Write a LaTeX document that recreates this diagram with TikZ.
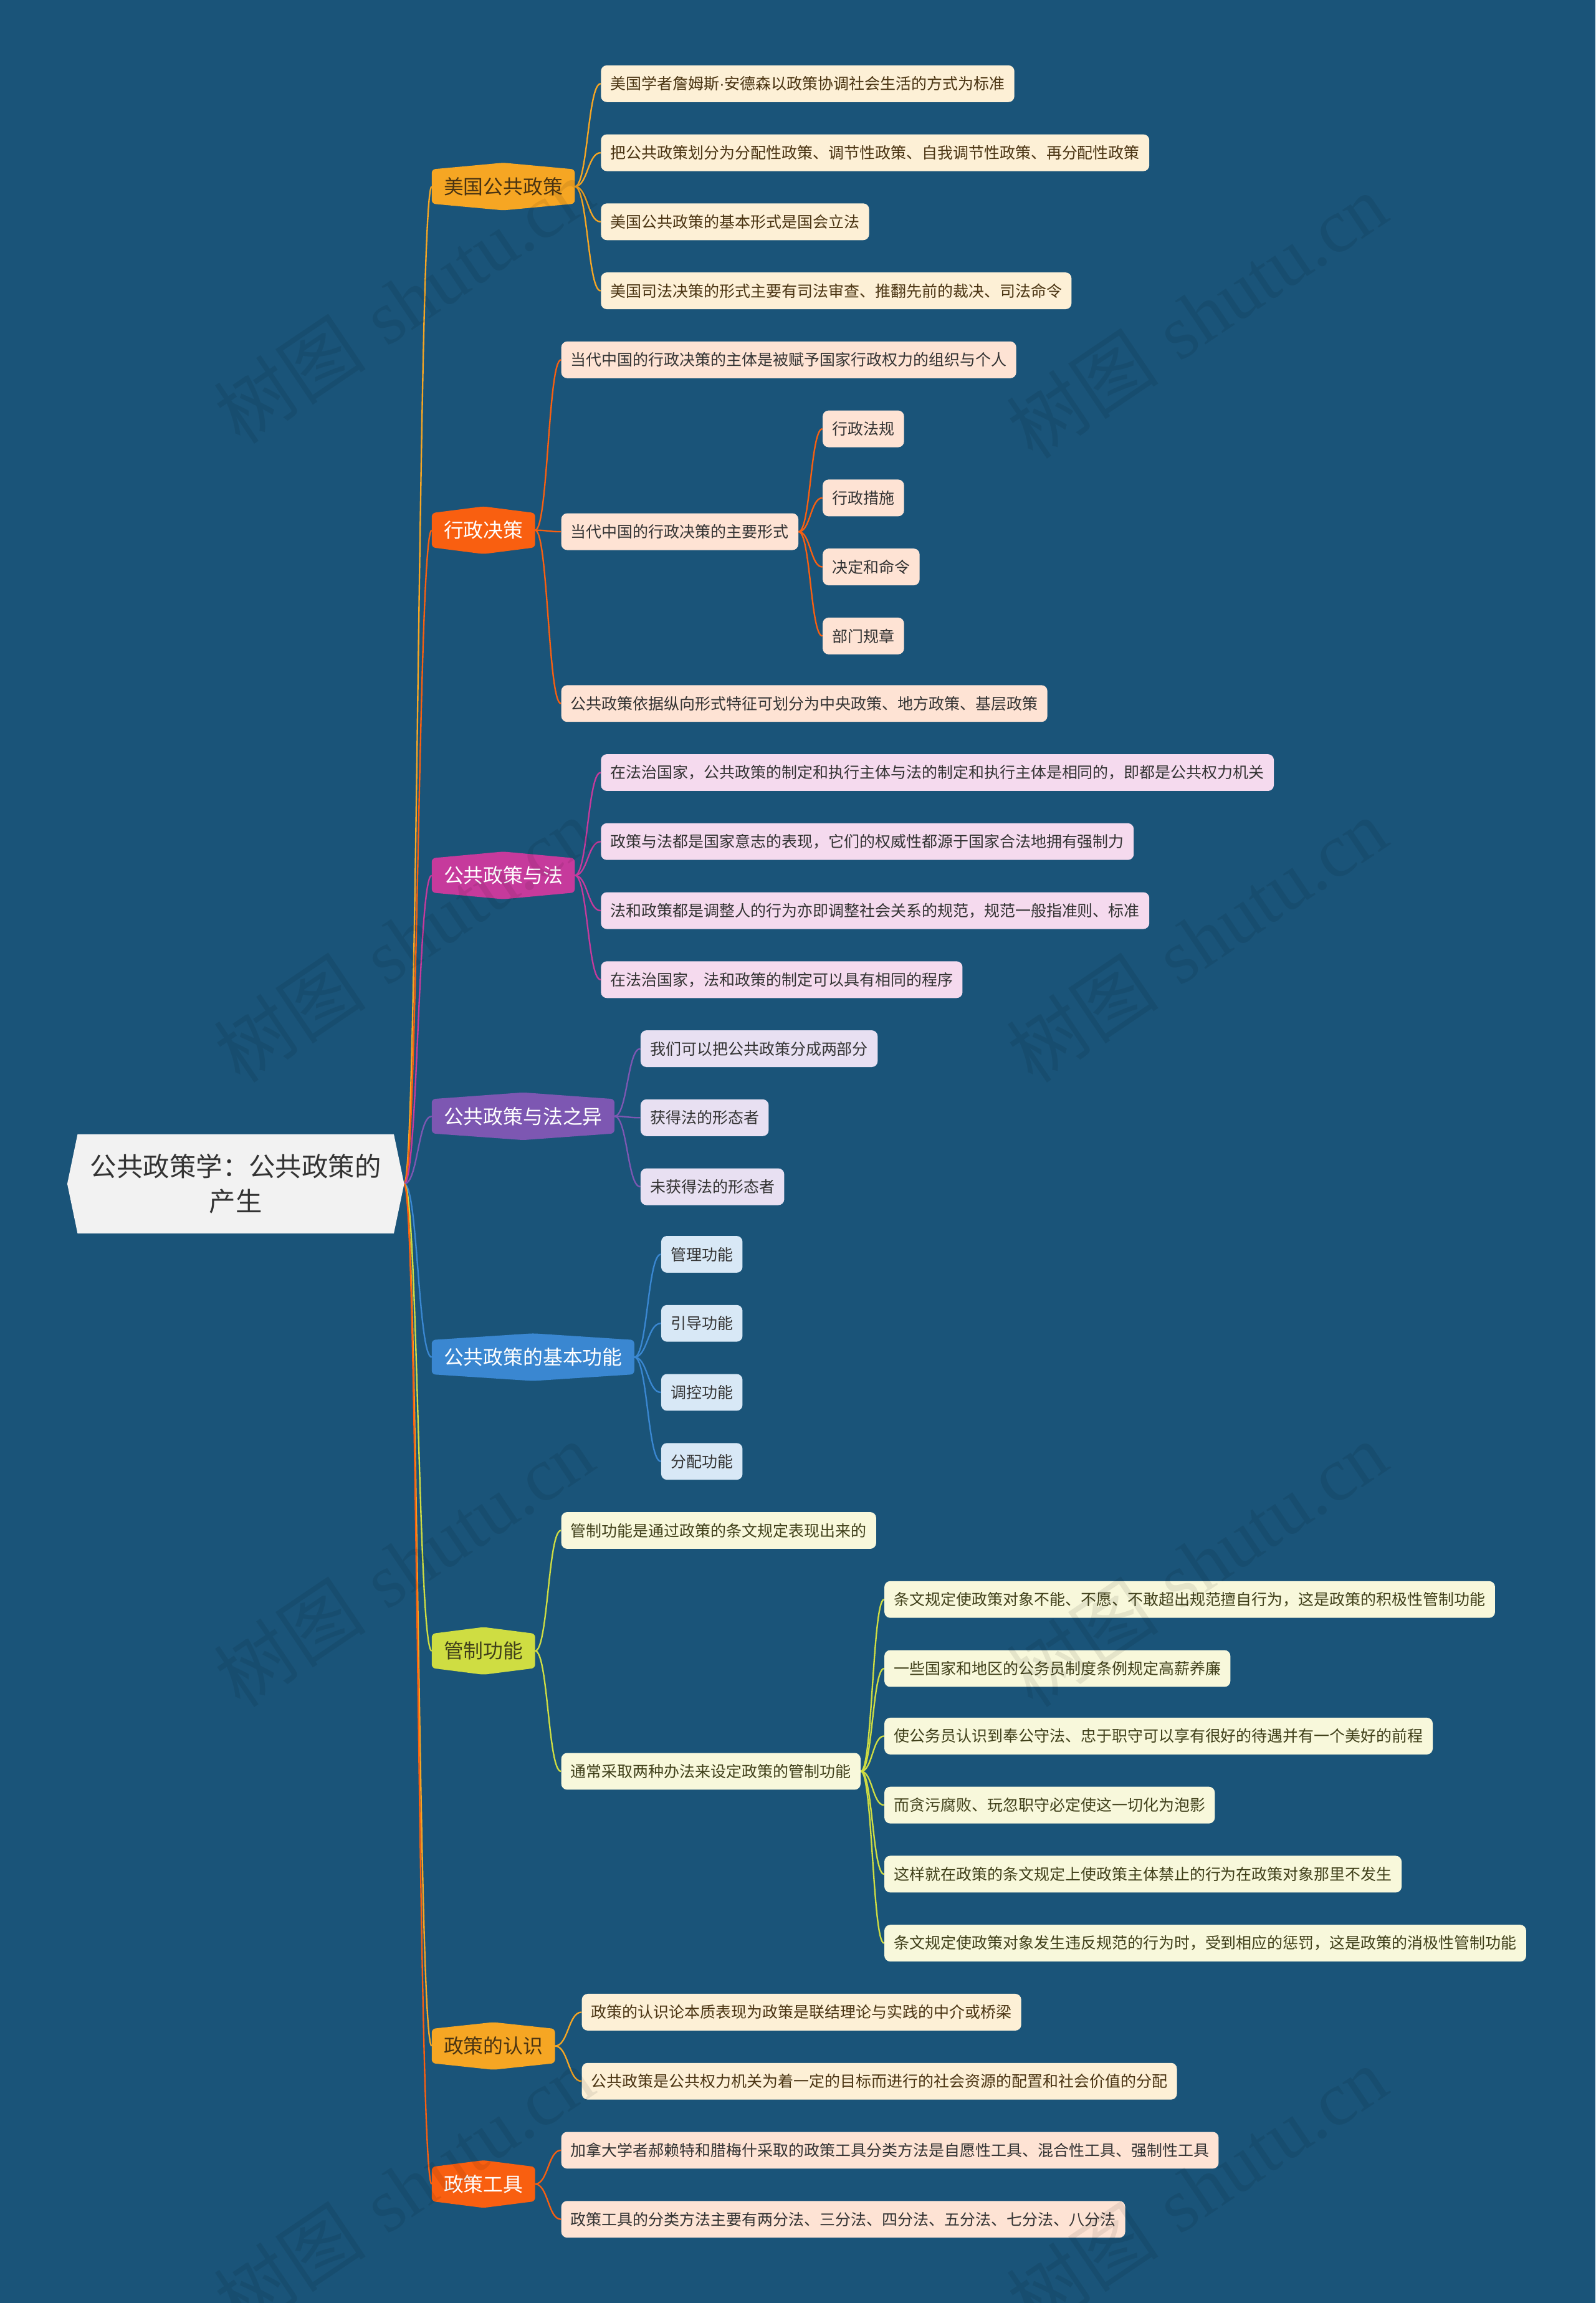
\documentclass[tikz,border=0pt]{standalone}
\usepackage{fontspec}
\newfontfamily\cjk{Noto Sans CJK SC}
\newfontfamily\wmfont{Liberation Serif}
\newfontfamily\latn{Liberation Sans}
\usetikzlibrary{calc}
\pgfdeclarelayer{bg}
\pgfdeclarelayer{edges}
\pgfdeclarelayer{shapes}
\pgfsetlayers{bg,edges,shapes,main}
\definecolor{bgc}{HTML}{1A5479}
\definecolor{cOr}{HTML}{F6A623}
\definecolor{cRd}{HTML}{F95F10}
\definecolor{cMg}{HTML}{C63A9C}
\definecolor{cPu}{HTML}{7D57B2}
\definecolor{cBl}{HTML}{3A87D1}
\definecolor{cYg}{HTML}{CFDD42}
\definecolor{fOr}{HTML}{FDF0D6}
\definecolor{fRd}{HTML}{FEE3D4}
\definecolor{fMg}{HTML}{F5DAEE}
\definecolor{fPu}{HTML}{E8E0F2}
\definecolor{fBl}{HTML}{D8E8F6}
\definecolor{fYg}{HTML}{F8F8DB}
\definecolor{rootf}{HTML}{F2F2F2}
\definecolor{txd}{HTML}{333333}
\definecolor{txb}{HTML}{4A3412}
\definecolor{txy}{HTML}{40401A}
\tikzset{
  leaf/.style={font=\cjk\fontsize{10.6}{12}\selectfont, rounded corners=4pt, inner xsep=6.5pt, inner ysep=0pt, minimum height=25pt, anchor=west, text=txd},
  brn/.style={font=\cjk\fontsize{13.5}{16}\selectfont, inner xsep=8pt, inner ysep=0pt, minimum height=32pt, anchor=west},
  wm/.style={rotate=34, text=black, opacity=0.08, font=\fontsize{52}{56}\selectfont},
}
\newcommand\lnk[3]{%
  \edef\lnkA{#2}\edef\lnkB{#3}%
  \begin{pgfonlayer}{edges}
  \draw[#1, line width=1pt] let \p1=(\lnkA.east), \p2=(\lnkB.west) in
    (\p1) .. controls ({0.5*\x1+0.5*\x2},\y1) and ({0.5*\x1+0.5*\x2},\y2) .. (\p2);
  \end{pgfonlayer}}
\newcommand\hexbr[6]{%
  \node[brn, text=#5] (#1) at (#2,#3) {#6};
  \begin{pgfonlayer}{shapes}
  \fill[#4, rounded corners=2.5pt] ([yshift=-4.5pt]#1.north west) -- (#1.north) -- ([yshift=-4.5pt]#1.north east) -- ([yshift=4.5pt]#1.south east) -- (#1.south) -- ([yshift=4.5pt]#1.south west) -- cycle;
  \end{pgfonlayer}}
\begin{document}
\begin{tikzpicture}[x=1pt, y=-1pt]
\begin{pgfonlayer}{bg}
\fill[bgc] (0,0) rectangle (1086.4,1568);
\end{pgfonlayer}
\useasboundingbox (0,0) rectangle (1086.4,1568);

% root
\node[font=\cjk\fontsize{18}{24}\selectfont, text=txd, align=center, minimum width=229pt, minimum height=67pt, inner sep=0pt] (root) at (160.5,806) {公共政策学：公共政策的\\产生};
\begin{pgfonlayer}{shapes}
\fill[rootf] (root.west) -- ([xshift=7pt]root.north west) -- ([xshift=-7pt]root.north east) -- (root.east) -- ([xshift=-7pt]root.south east) -- ([xshift=7pt]root.south west) -- cycle;
\end{pgfonlayer}

% branches
\hexbr{b1}{294}{127}{cOr}{txb}{美国公共政策}
\hexbr{b2}{294}{361}{cRd}{white}{行政决策}
\hexbr{b3}{294}{596}{cMg}{white}{公共政策与法}
\hexbr{b4}{294}{760}{cPu}{white}{公共政策与法之异}
\hexbr{b5}{294}{924}{cBl}{white}{公共政策的基本功能}
\hexbr{b6}{294}{1124}{cYg}{txy}{管制功能}
\hexbr{b7}{294}{1393}{cOr}{txb}{政策的认识}
\hexbr{b8}{294}{1487}{cRd}{white}{政策工具}

\lnk{cOr}{root}{b1}
\lnk{cRd}{root}{b2}
\lnk{cMg}{root}{b3}
\lnk{cPu}{root}{b4}
\lnk{cBl}{root}{b5}
\lnk{cYg}{root}{b6}
\lnk{cOr}{root}{b7}
\lnk{cRd}{root}{b8}

% branch 1
\node[leaf, fill=fOr, text=txb] (a1) at (409,57) {美国学者詹姆斯{\latn ·}安德森以政策协调社会生活的方式为标准};
\node[leaf, fill=fOr, text=txb] (a2) at (409,104) {把公共政策划分为分配性政策、调节性政策、自我调节性政策、再分配性政策};
\node[leaf, fill=fOr, text=txb] (a3) at (409,151) {美国公共政策的基本形式是国会立法};
\node[leaf, fill=fOr, text=txb] (a4) at (409,198) {美国司法决策的形式主要有司法审查、推翻先前的裁决、司法命令};
\foreach \nd in {a1,a2,a3,a4} {\lnk{cOr}{b1}{\nd}}

% branch 2
\node[leaf, fill=fRd] (c1) at (382,245) {当代中国的行政决策的主体是被赋予国家行政权力的组织与个人};
\node[leaf, fill=fRd] (c2) at (382,362) {当代中国的行政决策的主要形式};
\node[leaf, fill=fRd] (c3) at (382,479) {公共政策依据纵向形式特征可划分为中央政策、地方政策、基层政策};
\foreach \nd in {c1,c2,c3} {\lnk{cRd}{b2}{\nd}}
\node[leaf, fill=fRd] (c21) at (560,292) {行政法规};
\node[leaf, fill=fRd] (c22) at (560,339) {行政措施};
\node[leaf, fill=fRd] (c23) at (560,386) {决定和命令};
\node[leaf, fill=fRd] (c24) at (560,433) {部门规章};
\foreach \nd in {c21,c22,c23,c24} {\lnk{cRd}{c2}{\nd}}

% branch 3
\node[leaf, fill=fMg] (d1) at (409,526) {在法治国家，公共政策的制定和执行主体与法的制定和执行主体是相同的，即都是公共权力机关};
\node[leaf, fill=fMg] (d2) at (409,573) {政策与法都是国家意志的表现，它们的权威性都源于国家合法地拥有强制力};
\node[leaf, fill=fMg] (d3) at (409,620) {法和政策都是调整人的行为亦即调整社会关系的规范，规范一般指准则、标准};
\node[leaf, fill=fMg] (d4) at (409,667) {在法治国家，法和政策的制定可以具有相同的程序};
\foreach \nd in {d1,d2,d3,d4} {\lnk{cMg}{b3}{\nd}}

% branch 4
\node[leaf, fill=fPu] (e1) at (436,714) {我们可以把公共政策分成两部分};
\node[leaf, fill=fPu] (e2) at (436,761) {获得法的形态者};
\node[leaf, fill=fPu] (e3) at (436,808) {未获得法的形态者};
\foreach \nd in {e1,e2,e3} {\lnk{cPu}{b4}{\nd}}

% branch 5
\node[leaf, fill=fBl] (f1) at (450,854) {管理功能};
\node[leaf, fill=fBl] (f2) at (450,901) {引导功能};
\node[leaf, fill=fBl] (f3) at (450,948) {调控功能};
\node[leaf, fill=fBl] (f4) at (450,995) {分配功能};
\foreach \nd in {f1,f2,f3,f4} {\lnk{cBl}{b5}{\nd}}

% branch 6
\node[leaf, fill=fYg, text=txy] (g1) at (382,1042) {管制功能是通过政策的条文规定表现出来的};
\node[leaf, fill=fYg, text=txy] (g2) at (382,1206) {通常采取两种办法来设定政策的管制功能};
\foreach \nd in {g1,g2} {\lnk{cYg}{b6}{\nd}}
\node[leaf, fill=fYg, text=txy] (g21) at (602,1089) {条文规定使政策对象不能、不愿、不敢超出规范擅自行为，这是政策的积极性管制功能};
\node[leaf, fill=fYg, text=txy] (g22) at (602,1136) {一些国家和地区的公务员制度条例规定高薪养廉};
\node[leaf, fill=fYg, text=txy] (g23) at (602,1182) {使公务员认识到奉公守法、忠于职守可以享有很好的待遇并有一个美好的前程};
\node[leaf, fill=fYg, text=txy] (g24) at (602,1229) {而贪污腐败、玩忽职守必定使这一切化为泡影};
\node[leaf, fill=fYg, text=txy] (g25) at (602,1276) {这样就在政策的条文规定上使政策主体禁止的行为在政策对象那里不发生};
\node[leaf, fill=fYg, text=txy] (g26) at (602,1323) {条文规定使政策对象发生违反规范的行为时，受到相应的惩罚，这是政策的消极性管制功能};
\foreach \nd in {g21,g22,g23,g24,g25,g26} {\lnk{cYg}{g2}{\nd}}

% branch 7
\node[leaf, fill=fOr, text=txb] (h1) at (396,1370) {政策的认识论本质表现为政策是联结理论与实践的中介或桥梁};
\node[leaf, fill=fOr, text=txb] (h2) at (396,1417) {公共政策是公共权力机关为着一定的目标而进行的社会资源的配置和社会价值的分配};
\foreach \nd in {h1,h2} {\lnk{cOr}{b7}{\nd}}

% branch 8
\node[leaf, fill=fRd] (k1) at (382,1464) {加拿大学者郝赖特和腊梅什采取的政策工具分类方法是自愿性工具、混合性工具、强制性工具};
\node[leaf, fill=fRd] (k2) at (382,1511) {政策工具的分类方法主要有两分法、三分法、四分法、五分法、七分法、八分法};
\foreach \nd in {k1,k2} {\lnk{cRd}{b8}{\nd}}

% watermarks
\foreach \wx/\wy [count=\i] in {275/205, 815/215, 275/640, 815/640, 275/1065, 815/1065, 275/1490, 815/1490}
  \node[wm] (wm\i) at (\wx,\wy) {{\cjk 树图} {\wmfont shutu.cn}};
\end{tikzpicture}
\end{document}
